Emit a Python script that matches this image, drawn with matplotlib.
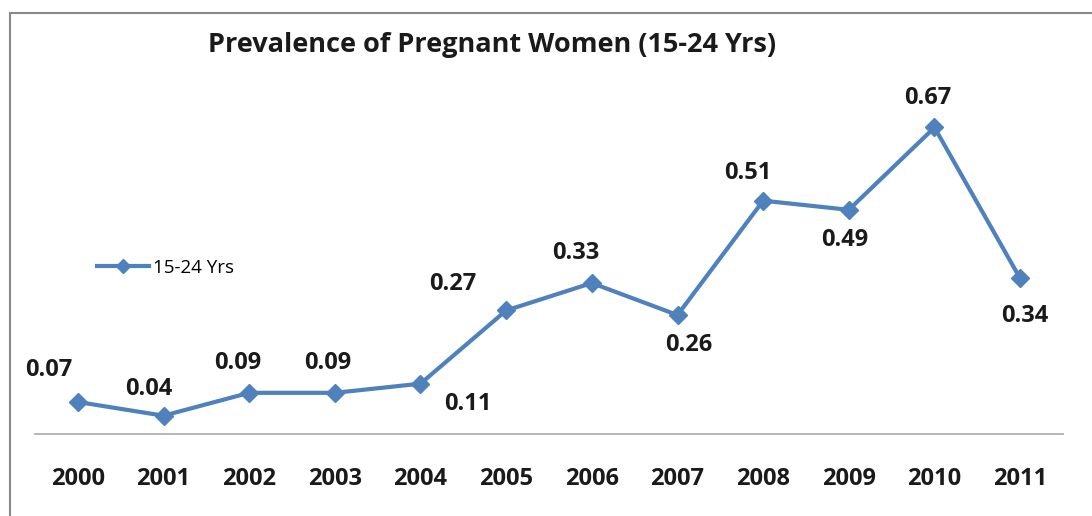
import matplotlib.pyplot as plt
from matplotlib.patches import Rectangle

# data
years = ['2000', '2001', '2002', '2003', '2004', '2005',
         '2006', '2007', '2008', '2009', '2010', '2011']
prevalence = [0.07, 0.04, 0.09, 0.09, 0.11, 0.27,
              0.33, 0.26, 0.51, 0.49, 0.67, 0.34]
series_name = '15-24 Yrs'
title = 'Prevalence of Pregnant Women (15-24 Yrs)'

# label offsets in pixels (dx, dy), above or below each point
label_offsets = [(-29, 32), (-15, 27), (-11, 30), (-7, 30), (47, -20), (-53, 26),
                 (-16, 30), (11, -30), (-15, 28), (-4, -30), (-7, 29), (5, -38)]

blue = '#4F81BD'
plt.rcParams['font.family'] = ['Open Sans', 'DejaVu Sans']

fig = plt.figure(figsize=(10.92, 5.16), dpi=100)
ax = fig.add_axes([35 / 1092, 82 / 516, 1028 / 1092, 366 / 516])

xs = list(range(len(years)))
line, = ax.plot(xs, prevalence, color=blue, lw=3, marker='D', ms=9.5,
                markeredgecolor=blue, label=series_name)

for x, v, (dx, dy) in zip(xs, prevalence, label_offsets):
    ax.annotate(f'{v:.2f}', (x, v), xytext=(dx, dy), textcoords='offset pixels',
                ha='center', va='center', fontsize=17, fontweight='bold',
                color='#1a1a1a')

ax.set_xlim(-0.5, len(years) - 0.5)
ax.set_ylim(0, 0.8)
ax.set_xticks(xs)
ax.set_xticklabels(years, fontsize=17, fontweight='bold', color='#1a1a1a')
ax.tick_params(axis='x', length=0, pad=24)
ax.set_yticks([])
for s in ['top', 'right', 'left']:
    ax.spines[s].set_visible(False)
ax.spines['bottom'].set_color('#b0b0b0')
ax.spines['bottom'].set_linewidth(1.3)

fig.text(492 / 1092, 1 - 45 / 516, title, ha='center', va='center',
         fontsize=19.5, fontweight='bold', color='#1a1a1a')

ax.legend(handles=[line], loc='center left', bbox_to_anchor=(45 / 1028, (434 - 268) / 366),
          frameon=False, fontsize=13.5, handlelength=2.8, handletextpad=0.2,
          markerscale=0.75)

# outer chart frame (only left and top visible in the crop)
fig.patches.append(Rectangle((10 / 1092, -0.2), 1.2, 1 - 13 / 516 + 0.2,
                             transform=fig.transFigure, fill=False,
                             edgecolor='#888888', lw=1.5))

fig.savefig('out.png', dpi=100)
